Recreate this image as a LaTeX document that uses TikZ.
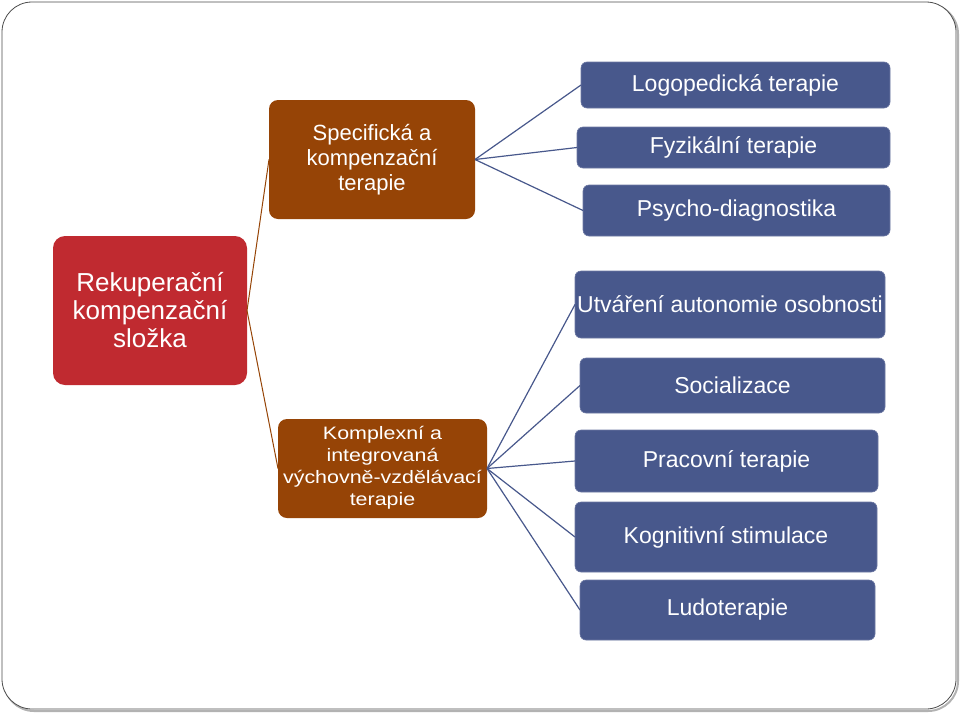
\documentclass[tikz,border=0pt]{standalone}
\usepackage{fontspec}
\setmainfont{Liberation Sans}
\usepackage{tikz}
\usetikzlibrary{calc, positioning}

\definecolor{rootred}{RGB}{192,42,48}
\definecolor{midbrown}{RGB}{150,68,6}
\definecolor{leafblue}{RGB}{72,88,140}

\tikzset{
    box/.style={
        text=white,
        inner sep=0pt,
        outer sep=0pt,
        align=center,
        rounded corners=6pt
    },
    rootbox/.style={box, fill=rootred, rounded corners=12pt, font=\fontsize{26}{28}\selectfont},
    midbox/.style={box, fill=midbrown, rounded corners=9pt},
    leafbox/.style={box, fill=leafblue, draw=leafblue!80!white, line width=0.6pt, font=\fontsize{23}{26}\selectfont},
    brownline/.style={draw=midbrown, line width=1pt},
    blueline/.style={draw=leafblue, line width=1.2pt}
}

\begin{document}
\begin{tikzpicture}[x=1pt, y=-1pt]
    \useasboundingbox (0,0) rectangle (960,712);
    % outer frame with a soft shadow
    \draw[gray!60, line width=2pt, rounded corners=30pt] (4,4) rectangle (958,711);
    \draw[black!70, line width=0.8pt, rounded corners=30pt, fill=white] (2,2) rectangle (956,709);

    % root
    \node[rootbox, minimum width=194pt, minimum height=149pt] (rekup) at (150,310.5)
        {Rekuperační\\kompenzační\\složka};

    % second level
    \node[midbox, minimum width=206pt, minimum height=119pt,
        font=\fontsize{22}{25}\selectfont] (spec) at (372,159.5)
        {Specifická a\\kompenzační\\terapie};
    \node[midbox, minimum width=209pt, minimum height=99pt,
        font=\fontsize{18}{22}\selectfont] (kompl) at (382.5,468.5)
        {% text is stretched sideways, as in the slide
        \scalebox{1.19}[1]{\begin{tabular}{@{}c@{}}Komplexní a\\integrovaná\\výchovně-vzdělávací\\terapie\end{tabular}}};

    % leaves of the upper branch
    \node[leafbox, minimum width=309pt, minimum height=46pt] (logo) at (735.5,85) {Logopedická terapie};
    \node[leafbox, minimum width=313pt, minimum height=41pt] (fyz) at (733.5,147.5) {Fyzikální terapie};
    \node[leafbox, minimum width=307pt, minimum height=51pt] (psych) at (736.5,210.5) {Psycho-diagnostika};

    % leaves of the lower branch
    \node[leafbox, minimum width=310pt, minimum height=67pt] (utv) at (730,304.5) {Utváření autonomie osobnosti};
    \node[leafbox, minimum width=305pt, minimum height=55pt] (soc) at (732.5,385.5) {Socializace};
    \node[leafbox, minimum width=303pt, minimum height=62pt] (prac) at (726.5,461) {Pracovní terapie};
    \node[leafbox, minimum width=302pt, minimum height=70pt] (kogn) at (726,537) {Kognitivní stimulace};
    \node[leafbox, minimum width=295pt, minimum height=60pt] (ludo) at (727.5,610) {Ludoterapie};

    % connectors
    \draw[brownline] (spec.west) -- (rekup.east) -- (kompl.west);
    \foreach \leaf in {logo, fyz, psych}
        \draw[blueline] (spec.east) -- (\leaf.west);
    \foreach \leaf in {utv, soc, prac, kogn, ludo}
        \draw[blueline] (kompl.east) -- (\leaf.west);
\end{tikzpicture}
\end{document}
